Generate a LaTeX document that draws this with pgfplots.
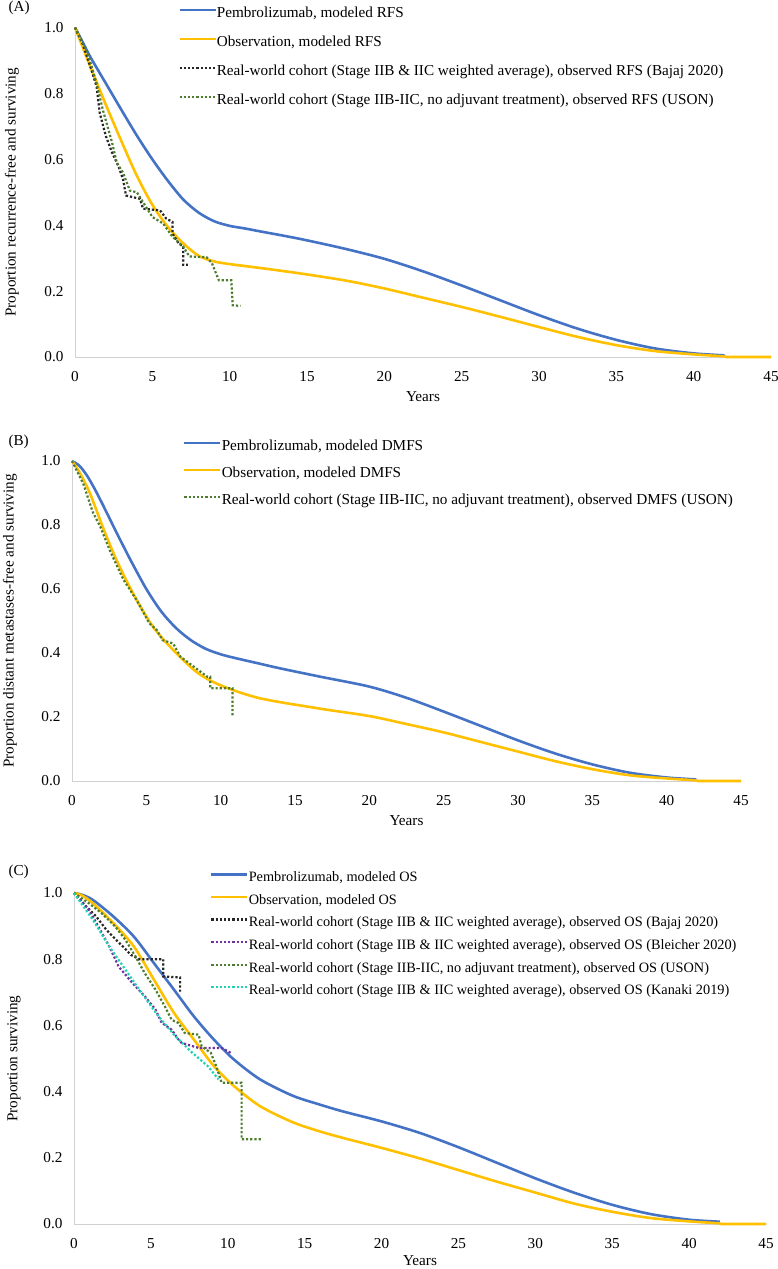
\documentclass[border=0pt]{standalone}
\usepackage{pgfplots}
\pgfplotsset{compat=1.18}
\usepackage{fontspec}
\setmainfont{Liberation Serif}
\definecolor{pblue}{HTML}{4472C4}
\definecolor{porange}{HTML}{FFC000}
\definecolor{pgreen}{HTML}{4E7D2E}
\definecolor{ppurple}{HTML}{7030A0}
\definecolor{pcyan}{HTML}{1FD2B0}
\newcommand{\fs}{\fontsize{15.2bp}{18bp}\selectfont}
\newcommand{\fsc}{\fontsize{14.3bp}{17bp}\selectfont}
\pgfplotsset{
  kmstyle/.style={
    scale only axis, clip=false,
    xmin=0, xmax=45, ymin=0, ymax=1,
    axis lines*=left,
    axis line style={draw=black!18, line width=1bp},
    xtick={0,5,10,15,20,25,30,35,40,45},
    ytick={0,0.2,0.4,0.6,0.8,1},
    major tick length=0pt,
    /pgf/number format/assume math mode=true,
    tick label style={font=\fs},
    yticklabel style={/pgf/number format/.cd, fixed, fixed zerofill, precision=1, /tikz/.cd, xshift=-8bp},
    xticklabel style={yshift=-11bp},
    label style={font=\fs},
    xlabel={Years},
    xlabel style={at={(axis description cs:0.5,0)}, anchor=center, yshift=-40bp},
    legend cell align=left,
    legend style={draw=none, fill=none, anchor=north west, font=\fs,
      nodes={inner sep=0pt, text height=10.5bp, text depth=3.5bp},
      column sep=0bp},
    legend image code/.code={\draw[##1] (0bp,4bp) -- (36bp,4bp);},
  },
  solidl/.style={line width=2.6bp, smooth, tension=0.5},
  flatl/.style={line width=2.6bp},
  dotl/.style={line width=2.2bp, dash pattern=on 2.2bp off 2bp},
}
\begin{document}
\begin{tikzpicture}
\path[use as bounding box] (0,0) rectangle (778bp,-1269bp);
\node[anchor=west, font=\fs] at (5bp,-8bp) {(A)};
\node[anchor=west, font=\fs] at (5bp,-442bp) {(B)};
\node[anchor=west, font=\fs] at (5bp,-872bp) {(C)};

% ---------------- Panel A ----------------
\begin{axis}[kmstyle, at={(75bp,-357bp)}, anchor=south west,
  width=696bp, height=329.5bp,
  ylabel={Proportion recurrence-free and surviving},
  ylabel style={at={(axis description cs:0,0.5)}, anchor=center, yshift=63bp},
  legend style={at={(0.1437,1.0683)}, row sep=15bp}]
\addplot[pblue, solidl] coordinates {
(0,1.000)(0.5,0.955)(1,0.91)(2,0.83)(3,0.75)(4,0.672)(5,0.60)(6,0.535)(7,0.478)(8,0.438)(9,0.412)(10,0.398)(11,0.39)(12,0.381)(13.5,0.368)(15,0.354)(17.5,0.328)(20,0.298)(22.5,0.26)(25,0.217)(27.5,0.172)(30,0.127)(32.5,0.086)(35,0.052)(37.5,0.026)(40,0.011)(42,0.005)};
\addlegendentry{Pembrolizumab, modeled RFS}
\addplot[porange, solidl] coordinates {
(0,1)(0.5,0.94)(1,0.88)(2,0.765)(3,0.655)(4,0.55)(5,0.462)(6,0.395)(7,0.345)(8,0.307)(9,0.29)(10,0.282)(12,0.27)(14.5,0.254)(17.5,0.232)(20,0.208)(22.5,0.18)(25,0.152)(27.5,0.122)(30,0.091)(32.5,0.061)(35,0.036)(37.5,0.018)(40,0.008)(42,0.002)};
\addlegendentry{Observation, modeled RFS}
\addplot[porange, flatl, forget plot] coordinates {(42,0.002)(42.1,0)(45,0)};
\addplot[black!85, dotl] coordinates {
(0,1)(0.5,0.95)(1,0.88)(1.4,0.82)(1.6,0.74)(2,0.67)(2.4,0.62)(2.8,0.58)(3.1,0.54)(3.3,0.49)(4.2,0.48)(4.4,0.45)(5.5,0.445)(5.9,0.42)(6.3,0.41)(6.3,0.375)(6.7,0.345)(7.0,0.335)(7.0,0.28)(7.3,0.28)};
\addlegendentry{Real-world cohort (Stage IIB \& IIC weighted average), observed RFS (Bajaj 2020)}
\addplot[pgreen, dotl] coordinates {
(0,1)(0.77,0.93)(1.4,0.83)(1.8,0.75)(2.4,0.65)(2.7,0.59)(3.1,0.56)(3.55,0.505)(4.0,0.50)(4.6,0.455)(5.0,0.425)(5.7,0.405)(6.3,0.365)(7.0,0.335)(7.4,0.305)(8.5,0.303)(8.85,0.285)(9.3,0.233)(10.1,0.233)(10.2,0.157)(10.7,0.155)};
\addlegendentry{Real-world cohort (Stage IIB-IIC, no adjuvant treatment), observed RFS (USON)}
\end{axis}

% ---------------- Panel B ----------------
\begin{axis}[kmstyle, at={(72bp,-781bp)}, anchor=south west,
  width=669bp, height=320bp,
  ylabel={Proportion distant metastases-free and surviving},
  ylabel style={at={(axis description cs:0,0.5)}, anchor=center, yshift=62bp},
  legend style={at={(0.1614,1.0719)}, row sep=13bp}]
\addplot[pblue, solidl] coordinates {
(0,1)(0.5,0.985)(1,0.955)(1.5,0.915)(2,0.87)(2.5,0.823)(3,0.776)(3.5,0.73)(4,0.685)(5,0.60)(6,0.53)(7,0.478)(8,0.44)(9,0.413)(10,0.396)(11,0.384)(12.5,0.368)(14,0.352)(16.7,0.326)(20,0.295)(22.5,0.26)(25,0.217)(27.5,0.172)(30,0.127)(32.5,0.086)(35,0.052)(37.5,0.026)(40,0.011)(42,0.005)};
\addlegendentry{Pembrolizumab, modeled DMFS}
\addplot[porange, solidl] coordinates {
(0,1)(0.5,0.965)(1.2,0.90)(2.1,0.79)(3.0,0.69)(4.1,0.587)(5.45,0.482)(6.8,0.41)(8.4,0.34)(9.95,0.3)(12.6,0.259)(16.7,0.226)(20,0.203)(22.5,0.178)(25,0.152)(27.5,0.122)(30,0.092)(32.5,0.062)(35,0.037)(37.5,0.018)(40,0.008)(42,0.002)};
\addlegendentry{Observation, modeled DMFS}
\addplot[porange, flatl, forget plot] coordinates {(42,0.002)(42.1,0)(45,0)};
\addplot[pgreen, dotl] coordinates {
(0,1)(0.75,0.93)(1.4,0.84)(1.9,0.795)(2.55,0.72)(3.45,0.63)(4.35,0.565)(5.2,0.493)(5.7,0.472)(6.1,0.44)(6.8,0.43)(7.3,0.388)(8.2,0.357)(9.1,0.326)(9.3,0.326)(9.3,0.29)(10.8,0.29)(10.8,0.20)};
\addlegendentry{Real-world cohort (Stage IIB-IIC, no adjuvant treatment), observed DMFS (USON)}
\end{axis}

% ---------------- Panel C ----------------
\begin{axis}[kmstyle, at={(74bp,-1224bp)}, anchor=south west,
  width=692bp, height=331bp,
  ylabel={Proportion surviving},
  ylabel style={at={(axis description cs:0,0.5)}, anchor=center, yshift=60bp},
  xlabel style={yshift=3bp},
  legend style={at={(0.1922,1.0725)}, row sep=8.6bp, font=\fsc}]
\addplot[pblue, solidl] coordinates {
(0,1)(0.5,0.995)(1.23,0.979)(2.56,0.929)(3.9,0.868)(5.2,0.788)(6.5,0.708)(7.8,0.627)(9.1,0.557)(10.4,0.497)(12.1,0.437)(14.2,0.388)(15.9,0.362)(17.5,0.34)(20,0.31)(22.5,0.275)(25,0.232)(27.5,0.185)(30,0.138)(32.5,0.095)(35,0.058)(37.5,0.03)(40,0.013)(42,0.007)};
\addlegendentry{Pembrolizumab, modeled OS}
\addplot[porange, solidl] coordinates {
(0,1)(0.5,0.993)(1.23,0.969)(2.56,0.909)(3.9,0.838)(5.2,0.738)(6.5,0.638)(7.8,0.557)(9.1,0.477)(10.4,0.417)(12.1,0.356)(14.2,0.308)(15.9,0.281)(17.5,0.26)(20,0.23)(22.5,0.198)(25,0.163)(27.5,0.128)(30,0.095)(32.5,0.062)(35,0.037)(37.5,0.018)(40,0.008)(42,0.002)};
\addlegendentry{Observation, modeled OS}
\addplot[porange, flatl, forget plot] coordinates {(42,0.002)(42.1,0)(45,0)};
\addplot[black!85, dotl] coordinates {
(0,1)(0.5,0.975)(0.8,0.959)(1.45,0.929)(2.1,0.889)(2.75,0.858)(3.4,0.828)(3.7,0.813)(4.25,0.80)(5.8,0.80)(5.8,0.748)(6.9,0.745)(6.9,0.70)};
\addlegendentry{Real-world cohort (Stage IIB \& IIC weighted average), observed OS (Bajaj 2020)}
\addplot[ppurple, dotl] coordinates {
(0,1)(0.97,0.949)(1.45,0.91)(2.3,0.838)(2.9,0.778)(3.8,0.728)(4.6,0.688)(5.3,0.648)(5.7,0.608)(6.35,0.587)(6.8,0.557)(7.0,0.547)(8.1,0.532)(9.6,0.532)(10.2,0.517)};
\addlegendentry{Real-world cohort (Stage IIB \& IIC weighted average), observed OS (Bleicher 2020)}
\addplot[pgreen, dotl] coordinates {
(0,1)(0.97,0.969)(1.8,0.939)(2.7,0.898)(3.35,0.858)(4.0,0.808)(4.6,0.758)(5.3,0.708)(5.9,0.658)(6.35,0.617)(6.8,0.607)(7.2,0.577)(8.1,0.572)(8.3,0.537)(8.9,0.517)(9.25,0.477)(9.6,0.427)(10.9,0.427)(10.9,0.256)(12.2,0.256)};
\addlegendentry{Real-world cohort (Stage IIB-IIC, no adjuvant treatment), observed OS (USON)}
\addplot[pcyan, dotl] coordinates {
(0,1)(1.23,0.919)(2.3,0.838)(3.35,0.768)(4.4,0.698)(5.5,0.627)(6.6,0.567)(7.7,0.517)(8.7,0.477)(9.4,0.437)};
\addlegendentry{Real-world cohort (Stage IIB \& IIC weighted average), observed OS (Kanaki 2019)}
\end{axis}
\end{tikzpicture}
\end{document}
